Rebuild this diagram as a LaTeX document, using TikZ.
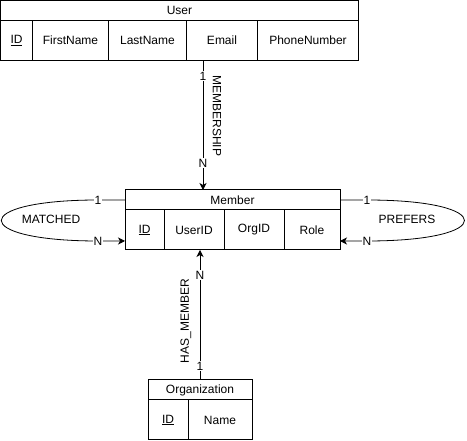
\documentclass[tikz,border=0pt]{standalone}
\usepackage{fontspec}
\setmainfont{Liberation Sans}
\usetikzlibrary{positioning,arrows.meta}

\tikzset{
  tbl/.style={draw, line width=1pt, inner sep=0pt, outer sep=0pt, minimum height=20pt, font=\fontsize{12}{14}\selectfont},
  col/.style={tbl, minimum height=40pt},
  rel/.style={line width=0.8pt, -{Stealth[length=7pt,width=7pt,inset=2pt]}},
  card/.style={fill=white, inner sep=1pt, font=\fontsize{12}{14}\selectfont},
  rname/.style={inner sep=0pt, font=\fontsize{12}{14}\selectfont}
}

\begin{document}
\begin{tikzpicture}[x=1pt,y=-1pt]
\useasboundingbox (0,0) rectangle (467,441);

  % User
  \node[tbl, minimum width=358pt, anchor=north west] (user) at (0.5,0.5) {User};
  \node[col, minimum width=32pt, below right=0pt and 0pt of user.south west] (user-id) {\underline{ID}};
  \node[col, minimum width=76pt, right=0pt of user-id] (user-first) {FirstName};
  \node[col, minimum width=78pt, right=0pt of user-first] (user-last) {LastName};
  \node[col, minimum width=71pt, right=0pt of user-last] (user-email) {Email};
  \node[col, minimum width=101pt, right=0pt of user-email] (user-phone) {PhoneNumber};

  % Member
  \node[tbl, minimum width=215pt, anchor=north west] (member) at (125,190) {Member};
  \node[col, minimum width=39pt, below right=0pt and 0pt of member.south west] (member-id) {\underline{ID}};
  \node[col, minimum width=60pt, right=0pt of member-id] (member-user) {UserID};
  \node[col, minimum width=60pt, right=0pt of member-user] (member-org) {OrgID};
  \node[col, minimum width=56pt, right=0pt of member-org] (member-role) {Role};

  % Organization
  \node[tbl, minimum width=104pt, anchor=north west] (org) at (148,380) {Organization};
  \node[col, minimum width=40pt, below right=0pt and 0pt of org.south west] (org-id) {\underline{ID}};
  \node[col, minimum width=64pt, right=0pt of org-id] (org-name) {Name};

  % MEMBERSHIP
  \coordinate (ms-start) at (203,60.5);
  \draw[rel] (ms-start) -- (ms-start |- member.north);
  \node[card] at (203,76) {1};
  \node[card] at (203,163) {N};
  \node[rname, rotate=-90] at (217,116) {MEMBERSHIP};

  % HAS_MEMBER
  \draw[rel] (org.north) -- (org.north |- member-user.south);
  \node[card] at (200,366) {1};
  \node[card] at (200,275) {N};
  \node[rname, rotate=90] at (186,321) {HAS\_MEMBER};

  % MATCHED
  \coordinate (ma-a) at (98,200);
  \coordinate (ma-b) at (98,241);
  \coordinate (ma-c) at (125,241);
  \draw[rel] (member.west) -- (ma-a) .. controls (-31,200) and (-31,241) .. (ma-b) -- (ma-c);
  \node[card] at (ma-a) {1};
  \node[card] at (ma-b) {N};
  \node[rname] at (51,219) {MATCHED};

  % PREFERS
  \coordinate (pr-a) at (367,200);
  \coordinate (pr-b) at (367,241);
  \coordinate (pr-c) at (340,241);
  \draw[rel] (member.east) -- (pr-a) .. controls (497,200) and (497,241) .. (pr-b) -- (pr-c);
  \node[card] at (pr-a) {1};
  \node[card] at (pr-b) {N};
  \node[rname] at (407,219) {PREFERS};

\end{tikzpicture}
\end{document}
